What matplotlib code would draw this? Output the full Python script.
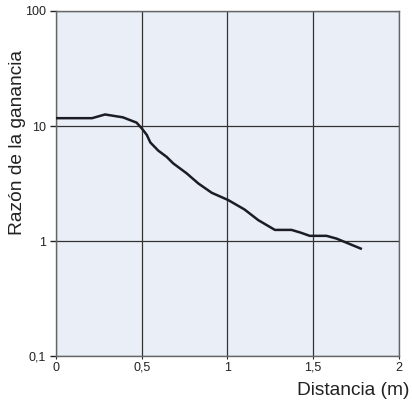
import matplotlib
matplotlib.use('Agg')
import matplotlib.pyplot as plt
from matplotlib.ticker import NullLocator

plt.rcParams['font.family'] = ['Liberation Sans', 'DejaVu Sans']

# curve
distance = [0.0, 0.21, 0.286, 0.39, 0.47, 0.50, 0.53, 0.55, 0.597, 0.645, 0.684,
            0.762, 0.83, 0.908, 1.005, 1.10, 1.18, 1.277, 1.374, 1.43, 1.48,
            1.578, 1.637, 1.778]
gain = [11.7, 11.7, 12.6, 11.9, 10.7, 9.55, 8.35, 7.2, 6.1, 5.4, 4.73,
        3.88, 3.17, 2.63, 2.27, 1.88, 1.52, 1.25, 1.25, 1.18, 1.11,
        1.11, 1.05, 0.86]

x_ticks = [0, 0.5, 1, 1.5, 2]
x_labels = ['0', '0,5', '1', '1,5', '2']
y_ticks = [0.1, 1, 10, 100]
y_labels = ['0,1', '1', '10', '100']

fig = plt.figure(figsize=(4.12, 4.01), dpi=100)
ax = fig.add_axes([0.136, 0.112, 0.832, 0.8606])
ax.set_facecolor('#e9eef7')

ax.set_yscale('log')
ax.set_xlim(0, 2)
ax.set_ylim(0.1, 100)

ax.plot(distance, gain, color='#1c1c24', lw=1.8, solid_joinstyle='round', zorder=3)

ax.set_xticks(x_ticks)
ax.set_xticklabels(x_labels)
ax.set_yticks(y_ticks)
ax.set_yticklabels(y_labels)
ax.yaxis.set_minor_locator(NullLocator())
ax.tick_params(axis='x', length=2, width=0.8, pad=2, labelsize=9, colors='#222')
ax.tick_params(axis='y', length=4, width=1, pad=3, labelsize=9, colors='#222')

ax.grid(True, color='#333', lw=0.9)
ax.set_axisbelow(True)
for s in ax.spines.values():
    s.set_color('#666')
    s.set_linewidth(1.0)

fig.text(0.042, 0.645, 'Razón de la ganancia', rotation=90, fontsize=13.8,
         ha='center', va='center', color='#222')
fig.text(0.995, 0.027, 'Distancia (m)', fontsize=13.8, ha='right', va='center', color='#222')

fig.savefig('out.png', dpi=100)
